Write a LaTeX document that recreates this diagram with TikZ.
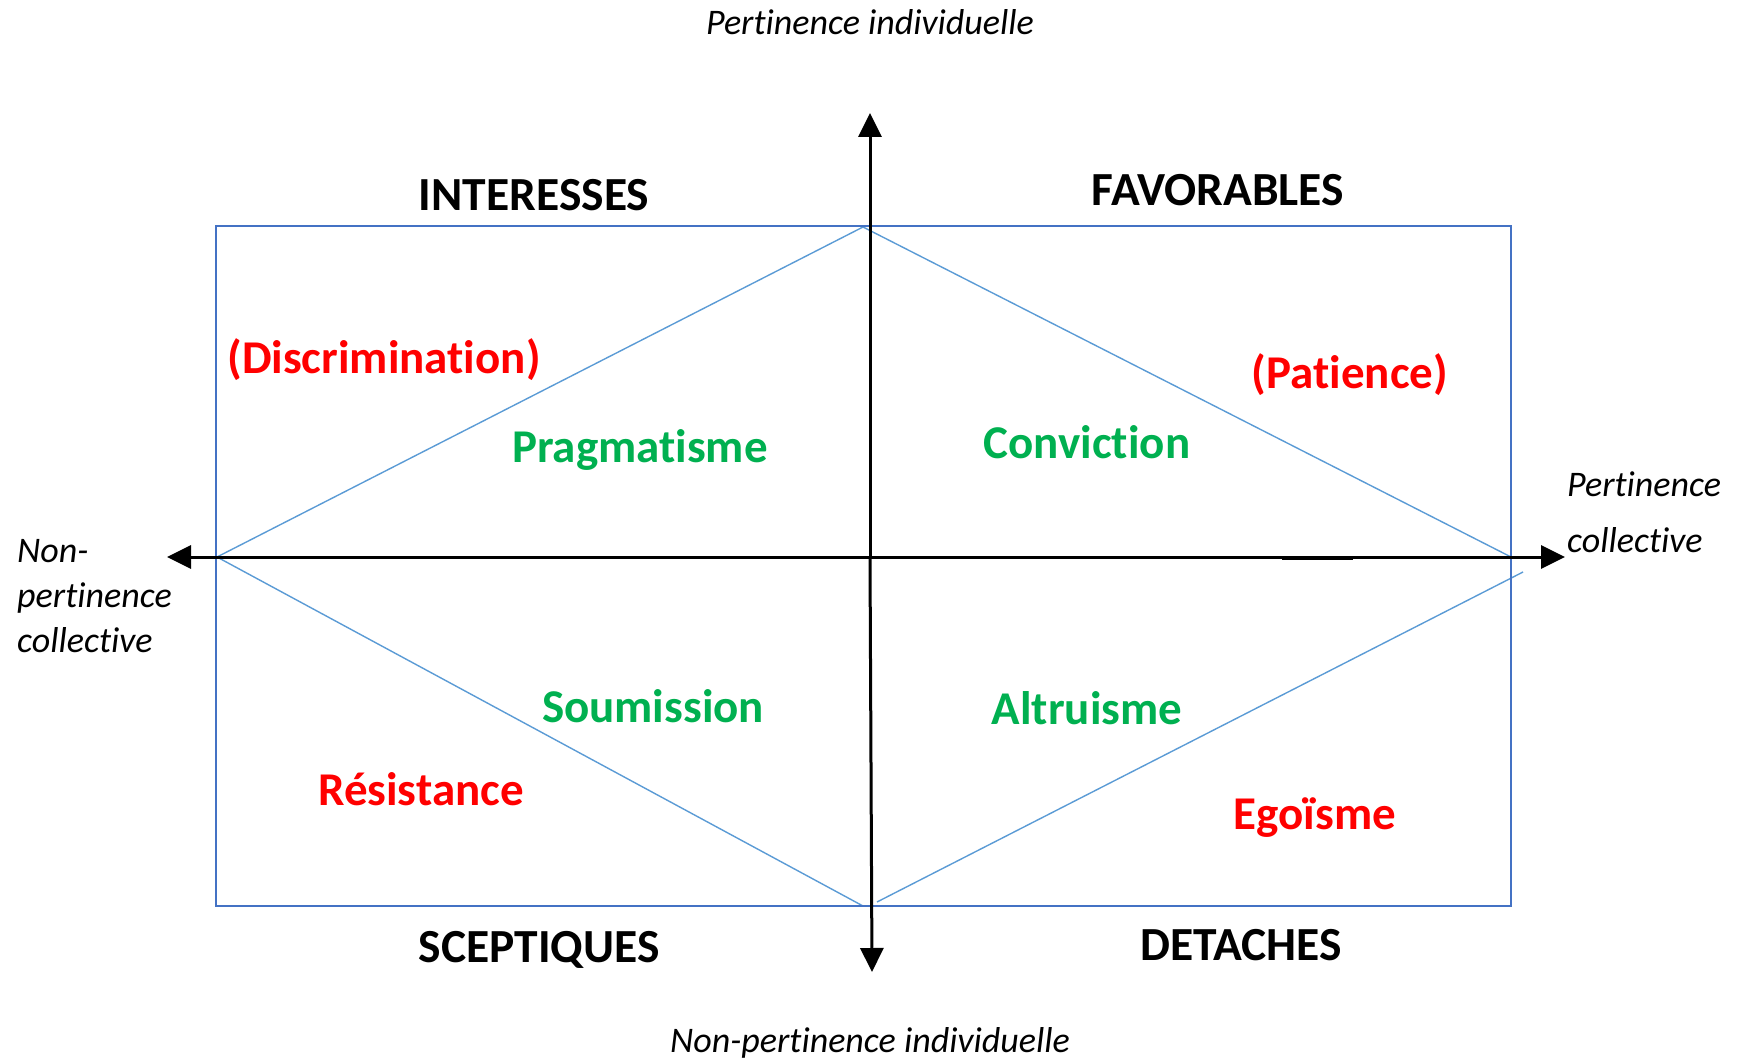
\documentclass[tikz,border=0pt]{standalone}
\usepackage{fontspec}
\setmainfont{Carlito}[Ligatures=NoCommon]
\usetikzlibrary{arrows.meta}
\definecolor{boxblue}{RGB}{68,114,196}
\definecolor{diablue}{RGB}{91,155,213}
\definecolor{grn}{RGB}{0,176,80}
\definecolor{rd}{RGB}{255,0,0}
\begin{document}
\begin{tikzpicture}[x=1pt,y=-1pt,
  axisline/.style={line width=3pt,-{Triangle[length=24pt,width=23pt]}},
  frame/.style={draw=boxblue,line width=2.8pt},
  diag/.style={draw=diablue,line width=1.4pt},
  head/.style={font=\fontsize{47.5}{56}\selectfont\bfseries,inner sep=0pt},
  posl/.style={font=\fontsize{47}{56}\selectfont\bfseries,text=grn,inner sep=0pt},
  negl/.style={font=\fontsize{47}{56}\selectfont\bfseries,text=rd,inner sep=0pt},
  lab/.style={font=\fontsize{36}{45}\selectfont\itshape,align=left,inner sep=0pt}]
\useasboundingbox (0,0) rectangle (1738,1062);
% key points
\coordinate (O) at (870,557);
\coordinate (top) at (870,113);
\coordinate (bot) at (872,972);
\coordinate (lft) at (167,557);
\coordinate (rgt) at (1565,557);
\coordinate (bx1) at (216,226);
\coordinate (bx2) at (1511,906);
\coordinate (L) at (217,557);
\coordinate (T) at (863,227);
\coordinate (R) at (1511,557);
\coordinate (B) at (863,906);
\coordinate (B2) at (877,902);
\coordinate (R2) at (1523,572);
% diamond
\draw[diag] (L) -- (T) -- (R);
\draw[diag] (L) -- (B);
\draw[diag] (B2) -- (R2);
% frame
\draw[frame] (bx1) rectangle (bx2);
% axes
\draw[axisline] (O) -- (top);
\draw[axisline] (O) -- (bot);
\draw[axisline] (O) -- (lft);
\draw[axisline] (O) -- (rgt);
\coordinate (s1) at (1282,558);
\coordinate (s2) at (1353,558);
\draw[line width=4.5pt] (s1) -- (s2);
% axis labels
\node[lab] (pi) at (870,22) {Pertinence individuelle};
\node[lab] (npi) at (870,1043) {Non-pertinence individuelle};
\node[lab,anchor=west,font=\fontsize{36}{45}\selectfont\itshape] (npc) at (17,596) {Non-\\pertinence\\collective};
\node[lab,anchor=west,font=\fontsize{36}{56}\selectfont\itshape] (pc) at (1567,512) {Pertinence\\collective};
% quadrant headings
\node[head] (int) at (534,195) {INTERESSES};
\node[head] (fav) at (1218,190) {FAVORABLES};
\node[head] (sce) at (539,950) {SCEPTIQUES};
\node[head] (det) at (1241,945) {DETACHES};
% inner labels
\node[negl] (dis) at (384,360) {(Discrimination)};
\node[posl] (pra) at (640,450) {Pragmatisme};
\node[negl] (pat) at (1350,375) {(Patience)};
\node[posl] (con) at (1087,442) {Conviction};
\node[posl] (sou) at (653,706) {Soumission};
\node[negl] (res) at (421,789) {Résistance};
\node[posl] (alt) at (1087,708) {Altruisme};
\node[negl] (ego) at (1315,818) {Egoïsme};
\end{tikzpicture}
\end{document}
